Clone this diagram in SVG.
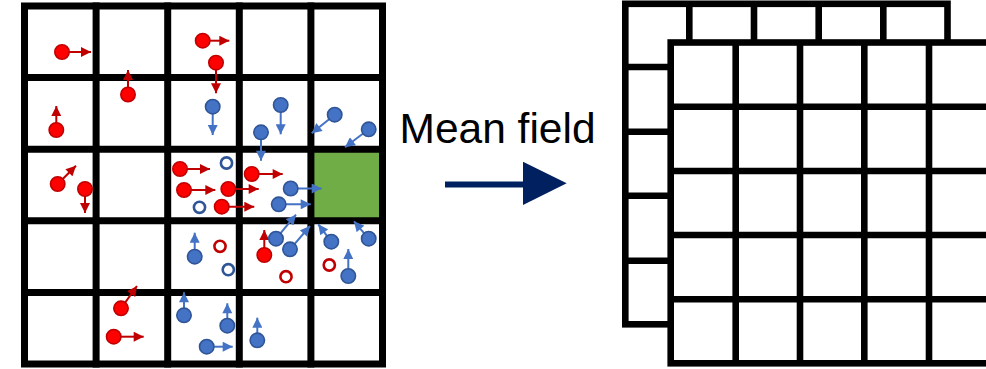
<svg xmlns="http://www.w3.org/2000/svg" width="986" height="369" viewBox="0 0 986 369">
  <style>
    .grid { fill: none; stroke: #000; stroke-width: 7; stroke-linecap: square; }
    .grid2 { fill: #fff; stroke: #000; stroke-width: 6.6; stroke-linecap: square; }
    .gl2 { stroke: #000; stroke-width: 6.6; }
    .pr { fill: #ff0000; stroke: #c00000; stroke-width: 1.6; }
    .pb { fill: #4472c4; stroke: #2f5597; stroke-width: 1.6; }
    .or { fill: none; stroke: #c00000; stroke-width: 2.6; }
    .ob { fill: none; stroke: #2f5597; stroke-width: 2.6; }
    .ar { stroke: #c00000; stroke-width: 2; marker-end: url(#headR); }
    .ab { stroke: #4472c4; stroke-width: 2; marker-end: url(#headB); }
    .label { font-family: "Liberation Sans", Arial, sans-serif; font-size: 42.5px; fill: #000; }
  </style>
  <defs>
    <marker id="headR" viewBox="0 0 10 10" refX="10" refY="5" markerWidth="10.5" markerHeight="10" markerUnits="userSpaceOnUse" orient="auto">
      <path d="M0,0 L10,5 L0,10 z" fill="#c00000"/>
    </marker>
    <marker id="headB" viewBox="0 0 10 10" refX="10" refY="5" markerWidth="10.5" markerHeight="10" markerUnits="userSpaceOnUse" orient="auto">
      <path d="M0,0 L10,5 L0,10 z" fill="#4472c4"/>
    </marker>
  </defs>

  <rect width="986" height="369" fill="#fff"/>

  <!-- Particle lattice (left) -->
  <g id="lattice">
    <rect id="target-cell" x="310.9" y="149.2" width="71.6" height="71.6" fill="#70ad47"/>
    <rect class="grid" x="24.5" y="6" width="358" height="358"/>
    <path class="grid" d="M96.1,6V364 M167.7,6V364 M239.3,6V364 M310.9,6V364 M24.5,77.6H382.5 M24.5,149.2H382.5 M24.5,220.8H382.5 M24.5,292.4H382.5"/>
  </g>

  <!-- Particles: velocity arrows under the bodies -->
  <g id="particles">
    <g id="red-particles">
      <line class="ar" x1="62" y1="52" x2="91" y2="52"/><circle class="pr" cx="62" cy="52" r="7.2"/>
      <line class="ar" x1="128" y1="94.5" x2="128" y2="70"/><circle class="pr" cx="128" cy="94.5" r="7.2"/>
      <line class="ar" x1="56.3" y1="130" x2="56.3" y2="106"/><circle class="pr" cx="56.3" cy="130" r="7.2"/>
      <line class="ar" x1="57.7" y1="184" x2="76" y2="165.7"/><circle class="pr" cx="57.7" cy="184" r="7.2"/>
      <line class="ar" x1="85" y1="189" x2="85" y2="213"/><circle class="pr" cx="85" cy="189" r="7.2"/>
      <line class="ar" x1="202.7" y1="40.7" x2="229.3" y2="40.7"/><circle class="pr" cx="202.7" cy="40.7" r="7.2"/>
      <line class="ar" x1="216" y1="62.7" x2="216" y2="93.3"/><circle class="pr" cx="216" cy="62.7" r="7.2"/>
      <line class="ar" x1="180" y1="169" x2="210" y2="169"/><circle class="pr" cx="180" cy="169" r="7.2"/>
      <line class="ar" x1="251.7" y1="174" x2="282.7" y2="174"/><circle class="pr" cx="251.7" cy="174" r="7.2"/>
      <line class="ar" x1="184" y1="190" x2="215.3" y2="190"/><circle class="pr" cx="184" cy="190" r="7.2"/>
      <line class="ar" x1="228.3" y1="189" x2="258.7" y2="189"/><circle class="pr" cx="228.3" cy="189" r="7.2"/>
      <line class="ar" x1="221.7" y1="206.7" x2="254.3" y2="206.7"/><circle class="pr" cx="221.7" cy="206.7" r="7.2"/>
      <line class="ar" x1="264.3" y1="255" x2="264.3" y2="230"/><circle class="pr" cx="264.3" cy="255" r="7.2"/>
      <line class="ar" x1="121" y1="308.3" x2="137" y2="286"/><circle class="pr" cx="121" cy="308.3" r="7.2"/>
      <line class="ar" x1="113.7" y1="336.7" x2="143.7" y2="336.7"/><circle class="pr" cx="113.7" cy="336.7" r="7.2"/>
    </g>
    <g id="blue-particles">
      <line class="ab" x1="212.7" y1="106.7" x2="212.7" y2="135"/><circle class="pb" cx="212.7" cy="106.7" r="7.2"/>
      <line class="ab" x1="280.7" y1="105" x2="280.7" y2="134.3"/><circle class="pb" cx="280.7" cy="105" r="7.2"/>
      <line class="ab" x1="261" y1="132.3" x2="261" y2="160.7"/><circle class="pb" cx="261" cy="132.3" r="7.2"/>
      <line class="ab" x1="334.7" y1="114.7" x2="311.7" y2="133.3"/><circle class="pb" cx="334.7" cy="114.7" r="7.2"/>
      <line class="ab" x1="368.7" y1="129.3" x2="345" y2="147.3"/><circle class="pb" cx="368.7" cy="129.3" r="7.2"/>
      <line class="ab" x1="290.7" y1="188.5" x2="321.7" y2="188.5"/><circle class="pb" cx="290.7" cy="188.5" r="7.2"/>
      <line class="ab" x1="278.7" y1="204.3" x2="310.7" y2="204.3"/><circle class="pb" cx="278.7" cy="204.3" r="7.2"/>
      <line class="ab" x1="276" y1="238.7" x2="296" y2="214.7"/><circle class="pb" cx="276" cy="238.7" r="7.2"/>
      <line class="ab" x1="290" y1="249.3" x2="310" y2="226"/><circle class="pb" cx="290" cy="249.3" r="7.2"/>
      <line class="ab" x1="194.7" y1="256.7" x2="194.7" y2="232.7"/><circle class="pb" cx="194.7" cy="256.7" r="7.2"/>
      <line class="ab" x1="331.3" y1="241.7" x2="318.3" y2="224.3"/><circle class="pb" cx="331.3" cy="241.7" r="7.2"/>
      <line class="ab" x1="368.7" y1="238.7" x2="354" y2="221.3"/><circle class="pb" cx="368.7" cy="238.7" r="7.2"/>
      <line class="ab" x1="348.3" y1="276" x2="348.3" y2="249"/><circle class="pb" cx="348.3" cy="276" r="7.2"/>
      <line class="ab" x1="184" y1="315.3" x2="184" y2="292.3"/><circle class="pb" cx="184" cy="315.3" r="7.2"/>
      <line class="ab" x1="227.3" y1="325.7" x2="227.3" y2="303.3"/><circle class="pb" cx="227.3" cy="325.7" r="7.2"/>
      <line class="ab" x1="206.7" y1="346.7" x2="232.7" y2="346.7"/><circle class="pb" cx="206.7" cy="346.7" r="7.2"/>
      <line class="ab" x1="257.3" y1="340.3" x2="257.3" y2="317.7"/><circle class="pb" cx="257.3" cy="340.3" r="7.2"/>
    </g>
    <g id="vacancies">
      <circle class="ob" cx="226.5" cy="163" r="5.6"/>
      <circle class="ob" cx="199.5" cy="207.3" r="5.6"/>
      <circle class="ob" cx="228.3" cy="269.7" r="5.6"/>
      <circle class="or" cx="220" cy="246.3" r="5.6"/>
      <circle class="or" cx="286" cy="276.7" r="5.6"/>
      <circle class="or" cx="329.3" cy="265" r="5.6"/>
    </g>
  </g>

  <!-- Mean-field label and transition arrow -->
  <g id="label">
    <text class="label" x="399.5" y="142.7">Mean field</text>
  </g>
  <g id="connectors">
    <path d="M445,184.5H525" stroke="#002060" stroke-width="5.8"/>
    <polygon points="523,161.7 566.7,183.3 523,205" fill="#002060"/>
  </g>

  <!-- Stacked coarse-grained fields (right) -->
  <g id="field-back">
    <rect class="grid2" x="625.3" y="3.8" width="322.2" height="320.5"/>
    <path class="gl2" d="M689.3,3.8V324.3 M754,3.8V324.3 M818.7,3.8V324.3 M883.3,3.8V324.3 M625.3,67H947.5 M625.3,131.7H947.5 M625.3,195.8H947.5 M625.3,260.7H947.5"/>
  </g>
  <g id="field-front">
    <rect class="grid2" x="670.7" y="42.5" width="322" height="320.8"/>
    <path class="gl2" d="M735.7,42.5V363.3 M800,42.5V363.3 M864.3,42.5V363.3 M929,42.5V363.3 M670.7,106.7H992.7 M670.7,171H992.7 M670.7,235H992.7 M670.7,299.3H992.7"/>
  </g>
</svg>
